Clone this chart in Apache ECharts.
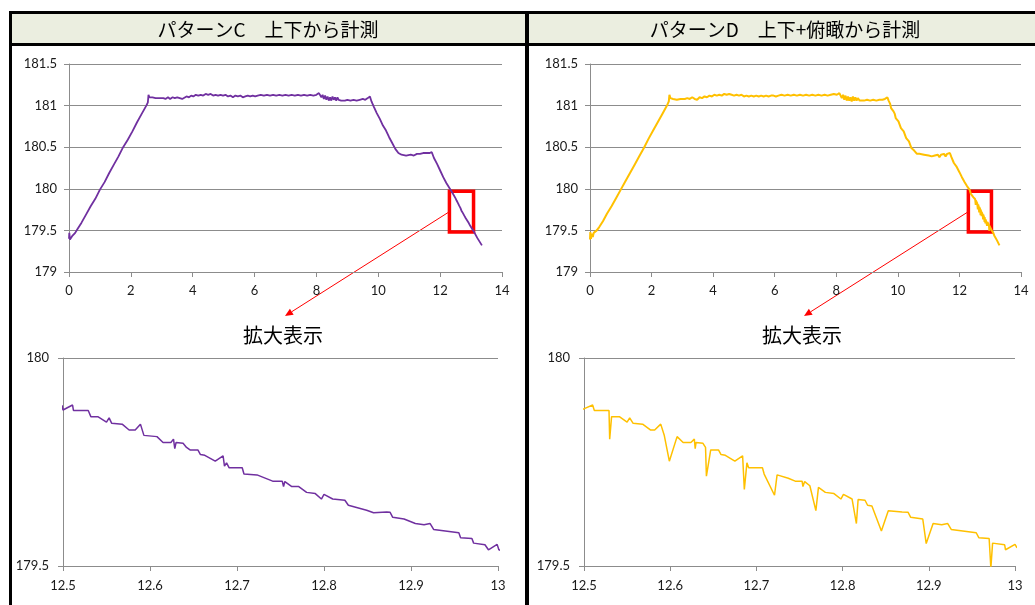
<!DOCTYPE html>
<html>
<head>
<meta charset="utf-8">
<script src="https://cdn.jsdelivr.net/npm/echarts@6/dist/echarts.min.js"></script>
<style>
  html, body { margin: 0; padding: 0; background: #ffffff; }
  #chart { width: 1035px; height: 605px; }
</style>
</head>
<body>
<div id="chart"></div>
<script>
// Panel titles and zoom caption
const titleC = 'パターンC　上下から計測';
const titleD = 'パターンD　上下+俯瞰から計測';
const zoomCaption = '拡大表示';

// Axis ranges / tick steps
const overviewX = { min: 0, max: 14, interval: 2 };
const overviewY = { min: 179, max: 181.5, interval: 0.5 };
const detailX = { min: 12.5, max: 13, interval: 0.1 };
const detailY = { min: 179.5, max: 180, interval: 0.5 };

// Highlighted zoom windows [[x0, y0], [x1, y1]]
const zoomBoxC = [[12.3, 179.97], [13.08, 179.48]];
const zoomBoxD = [[12.29, 179.97], [13.04, 179.48]];

// Pattern C measurement: [time, position]
const seriesC = [
  [0.00,179.40],[0.01,179.47],[0.03,179.39],[0.06,179.41],[0.10,179.43],[0.15,179.44],[0.20,179.47],
  [0.28,179.52],[0.40,179.59],[0.55,179.69],[0.70,179.79],[0.85,179.88],[1.00,179.99],[1.15,180.08],
  [1.30,180.19],[1.45,180.29],[1.60,180.39],[1.75,180.50],[1.90,180.59],[2.05,180.69],[2.20,180.80],
  [2.35,180.90],[2.50,181.00],[2.55,181.04],[2.57,181.13],[2.60,181.10],[2.63,181.12],
  [2.66,181.08],[2.70,181.10],[2.75,181.08],[2.80,181.09],[2.86,181.07],[2.92,181.09],[2.98,181.08],
  [3.05,181.09],[3.12,181.08],[3.20,181.10],[3.27,181.08],[3.35,181.10],[3.42,181.09],[3.50,181.10],
  [3.58,181.09],[3.66,181.08],[3.72,181.07],[3.80,181.11],[3.88,181.10],[3.95,181.12],[4.02,181.11],
  [4.10,181.13],[4.18,181.12],[4.26,181.13],[4.34,181.12],[4.42,181.14],[4.50,181.13],[4.58,181.14],
  [4.66,181.12],[4.74,181.13],[4.82,181.12],[4.90,181.13],[4.98,181.12],[5.06,181.13],[5.14,181.11],
  [5.22,181.12],[5.30,181.10],[5.38,181.12],[5.46,181.11],[5.54,181.12],[5.62,181.10],[5.70,181.11],
  [5.78,181.12],[5.86,181.11],[5.94,181.12],[6.02,181.11],[6.10,181.12],[6.20,181.13],[6.30,181.12],
  [6.40,181.13],[6.50,181.12],[6.60,181.13],[6.70,181.12],[6.80,181.13],[6.90,181.12],[7.00,181.13],
  [7.10,181.12],[7.20,181.13],[7.30,181.12],[7.40,181.13],[7.50,181.12],[7.60,181.13],[7.70,181.12],
  [7.80,181.13],[7.90,181.12],[8.00,181.13],[8.08,181.15],[8.12,181.14],[8.16,181.10],[8.20,181.13],
  [8.24,181.08],[8.28,181.12],[8.32,181.07],[8.36,181.11],[8.40,181.06],[8.44,181.10],[8.48,181.06],
  [8.52,181.11],[8.56,181.07],[8.60,181.10],[8.64,181.06],[8.68,181.10],[8.72,181.07],[8.76,181.09],
  [8.80,181.06],[8.86,181.08],[8.92,181.06],[9.00,181.07],[9.10,181.06],[9.20,181.07],[9.30,181.06],
  [9.40,181.07],[9.50,181.08],[9.58,181.07],[9.66,181.09],[9.73,181.11],
  [9.78,181.05],[9.85,180.99],[9.95,180.91],[10.05,180.84],[10.15,180.76],[10.25,180.70],[10.35,180.62],
  [10.45,180.55],[10.55,180.48],[10.65,180.43],
  [10.75,180.41],[10.90,180.40],[11.05,180.41],[11.15,180.40],[11.25,180.42],[11.30,180.40],[11.35,180.42],
  [11.40,180.41],[11.45,180.43],[11.50,180.41],[11.55,180.43],[11.60,180.41],[11.65,180.43],[11.70,180.42],
  [11.73,180.44],
  [11.80,180.37],[11.90,180.30],[12.00,180.22],[12.10,180.14],[12.20,180.07],[12.30,180.01],[12.40,179.95],
  [12.499,179.885],[12.500,179.875],[12.511,179.887],[12.512,179.874],[12.529,179.874],[12.532,179.859],
  [12.540,179.859],[12.550,179.846],[12.553,179.856],[12.556,179.843],[12.568,179.841],[12.576,179.827],
  [12.583,179.827],[12.589,179.841],[12.593,179.814],[12.608,179.811],[12.615,179.797],[12.624,179.797],
  [12.627,179.805],[12.6285,179.782],[12.630,179.797],[12.638,179.795],[12.642,179.785],[12.646,179.779],
  [12.655,179.779],[12.658,179.768],[12.663,179.766],[12.675,179.752],[12.684,179.765],[12.6856,179.740],
  [12.688,179.748],[12.691,179.736],[12.706,179.736],[12.708,179.721],[12.723,179.719],[12.741,179.704],
  [12.752,179.704],[12.7535,179.691],[12.755,179.703],[12.763,179.691],[12.771,179.691],[12.780,179.677],
  [12.790,179.674],[12.797,179.661],[12.800,179.672],[12.810,179.661],[12.824,179.658],[12.828,179.646],
  [12.849,179.634],[12.857,179.628],[12.872,179.630],[12.876,179.629],[12.879,179.617],[12.892,179.613],
  [12.905,179.602],[12.915,179.599],[12.922,179.602],[12.926,179.588],[12.955,179.580],[12.957,179.568],
  [12.970,179.566],[12.972,179.555],[12.985,179.551],[12.989,179.539],[12.999,179.552],[13.001,179.539],
  [13.10,179.48],[13.20,179.41],[13.30,179.35],[13.35,179.32]
];

// Pattern D measurement: [time, position]
const seriesD = [
  [0.00,179.39],[0.01,179.48],[0.03,179.40],[0.06,179.46],[0.09,179.42],[0.12,179.47],[0.16,179.45],
  [0.22,179.50],[0.30,179.54],[0.42,179.61],[0.55,179.70],[0.70,179.79],[0.85,179.89],[1.00,179.99],
  [1.15,180.09],[1.30,180.19],[1.45,180.29],[1.60,180.39],[1.75,180.49],[1.90,180.60],[2.05,180.70],
  [2.20,180.80],[2.35,180.90],[2.50,181.00],[2.56,181.05],[2.58,181.13],[2.61,181.09],
  [2.62,181.08],[2.66,181.10],[2.70,181.08],[2.76,181.09],[2.82,181.07],[2.88,181.09],[2.94,181.08],
  [3.00,181.09],[3.08,181.08],[3.16,181.09],[3.24,181.08],[3.32,181.10],[3.40,181.08],[3.48,181.07],
  [3.56,181.10],[3.64,181.09],[3.72,181.11],[3.80,181.10],[3.88,181.12],[3.96,181.11],[4.04,181.13],
  [4.12,181.12],[4.20,181.13],[4.28,181.12],[4.36,181.14],[4.44,181.13],[4.52,181.14],[4.60,181.13],
  [4.68,181.12],[4.76,181.13],[4.84,181.12],[4.92,181.13],[5.00,181.11],[5.08,181.12],[5.16,181.11],
  [5.24,181.12],[5.32,181.11],[5.40,181.12],[5.48,181.11],[5.56,181.12],[5.64,181.11],[5.72,181.12],
  [5.80,181.11],[5.88,181.12],[5.96,181.12],[6.04,181.11],[6.12,181.12],[6.22,181.13],[6.32,181.12],
  [6.42,181.13],[6.52,181.12],[6.62,181.13],[6.72,181.12],[6.82,181.13],[6.92,181.12],[7.02,181.13],
  [7.12,181.12],[7.22,181.13],[7.32,181.12],[7.42,181.13],[7.52,181.12],[7.62,181.13],[7.72,181.12],
  [7.82,181.13],[7.92,181.14],[8.02,181.13],[8.10,181.15],[8.14,181.12],[8.18,181.09],[8.22,181.13],
  [8.26,181.07],[8.30,181.12],[8.34,181.06],[8.38,181.11],[8.42,181.06],[8.46,181.10],[8.50,181.05],
  [8.54,181.11],[8.58,181.06],[8.62,181.10],[8.66,181.06],[8.70,181.09],[8.76,181.06],[8.82,181.08],
  [8.90,181.06],[9.00,181.07],[9.10,181.06],[9.20,181.07],[9.30,181.06],[9.40,181.07],[9.50,181.07],
  [9.58,181.08],[9.63,181.10],
  [9.66,181.10],[9.70,181.06],[9.75,181.02],[9.78,180.97],[9.82,180.98],[9.86,180.93],[9.90,180.90],
  [9.93,180.85],[9.97,180.87],[10.02,180.81],[10.06,180.79],[10.10,180.73],[10.14,180.75],[10.19,180.69],
  [10.23,180.68],[10.27,180.61],[10.31,180.63],[10.36,180.57],[10.40,180.55],[10.44,180.49],[10.48,180.51],
  [10.53,180.46],[10.58,180.44],[10.62,180.42],
  [10.70,180.42],[10.85,180.41],[11.00,180.40],[11.10,180.39],[11.20,180.40],[11.25,180.38],[11.30,180.41],
  [11.35,180.38],[11.40,180.41],[11.45,180.39],[11.50,180.42],[11.55,180.39],[11.60,180.42],[11.65,180.40],
  [11.69,180.43],
  [11.74,180.38],[11.78,180.36],[11.82,180.31],[11.86,180.33],[11.90,180.27],[11.95,180.25],[12.00,180.20],
  [12.04,180.21],[12.08,180.14],[12.13,180.13],[12.17,180.08],[12.21,180.09],[12.25,180.03],[12.29,180.01],
  [12.33,179.99],[12.37,179.94],[12.41,179.95],[12.45,179.90],
  [12.499,179.877],[12.510,179.887],[12.512,179.874],[12.529,179.874],[12.5298,179.805],[12.532,179.859],
  [12.541,179.859],[12.550,179.846],[12.553,179.856],[12.557,179.843],[12.568,179.841],[12.577,179.827],
  [12.582,179.827],[12.589,179.841],[12.593,179.815],[12.599,179.752],[12.608,179.811],[12.615,179.797],
  [12.624,179.797],[12.628,179.805],[12.629,179.782],[12.630,179.797],[12.638,179.795],[12.641,179.785],
  [12.642,179.716],[12.647,179.779],[12.656,179.779],[12.659,179.768],[12.664,179.766],[12.675,179.752],
  [12.684,179.765],[12.686,179.684],[12.689,179.748],[12.691,179.736],[12.707,179.736],[12.709,179.721],
  [12.711,179.719],[12.721,179.670],[12.724,179.719],[12.737,179.711],[12.745,179.704],[12.753,179.704],
  [12.754,179.691],[12.756,179.703],[12.762,179.693],[12.769,179.633],[12.772,179.689],[12.780,179.677],
  [12.790,179.674],[12.798,179.661],[12.801,179.672],[12.811,179.661],[12.816,179.602],[12.818,179.660],
  [12.826,179.658],[12.829,179.646],[12.834,179.644],[12.845,179.584],[12.853,179.633],[12.855,179.629],
  [12.869,179.630],[12.876,179.629],[12.879,179.617],[12.893,179.613],[12.897,179.554],[12.905,179.602],
  [12.915,179.599],[12.922,179.602],[12.926,179.588],[12.955,179.580],[12.958,179.568],[12.970,179.566],
  [12.972,179.495],[12.974,179.555],[12.988,179.551],[12.989,179.539],[13.000,179.552],[13.002,179.545],
  [13.05,179.50],[13.10,179.47],[13.13,179.44],[13.18,179.43],[13.22,179.38],[13.27,179.36],[13.30,179.32]
];

const colorC = '#7030a0';
const colorD = '#ffc000';
const axisGray = '#8c8c8c';
const labelFont = 'Lato, "Liberation Sans", sans-serif';
const jpFont = '"Noto Sans CJK JP", sans-serif';

function valueAxis(range, gridIndex, margin, showSplit) {
  return {
    type: 'value', gridIndex: gridIndex,
    min: range.min, max: range.max, interval: range.interval,
    axisLine: { show: true, lineStyle: { color: axisGray, width: 1 } },
    axisTick: { show: true, length: 5, lineStyle: { color: axisGray } },
    axisLabel: { color: '#1a1a1a', fontSize: 13, fontFamily: labelFont, margin: margin },
    splitLine: { show: showSplit, lineStyle: { color: axisGray, width: 1 } }
  };
}

function lineSeries(data, color, idx, width, box) {
  const s = {
    type: 'line', data: data, xAxisIndex: idx, yAxisIndex: idx,
    showSymbol: false, symbol: 'none', clip: true,
    lineStyle: { color: color, width: width },
    itemStyle: { color: color },
    animation: false, silent: true
  };
  if (box) {
    s.markArea = {
      silent: true,
      itemStyle: { color: 'rgba(0,0,0,0)', borderColor: '#ff0000', borderWidth: 3.5 },
      data: [[{ coord: box[0] }, { coord: box[1] }]]
    };
  }
  return s;
}

const chart = echarts.init(document.getElementById('chart'), null, { renderer: 'canvas' });

const option = {
  animation: false,
  backgroundColor: '#ffffff',
  grid: [
    { left: 69, right: 533, top: 64, bottom: 333 },
    { left: 63, right: 537, top: 358, bottom: 39 },
    { left: 590, right: 14, top: 64, bottom: 333 },
    { left: 584, right: 20, top: 358, bottom: 39 }
  ],
  xAxis: [
    valueAxis(overviewX, 0, 12, false),
    valueAxis(detailX, 1, 13, false),
    valueAxis(overviewX, 2, 12, false),
    valueAxis(detailX, 3, 13, false)
  ],
  yAxis: [
    valueAxis(overviewY, 0, 12, true),
    valueAxis(detailY, 1, 14, true),
    valueAxis(overviewY, 2, 12, true),
    valueAxis(detailY, 3, 14, true)
  ],
  series: [
    lineSeries(seriesC, colorC, 0, 1.8, zoomBoxC),
    lineSeries(seriesC, colorC, 1, 1.5, null),
    lineSeries(seriesD, colorD, 2, 2, zoomBoxD),
    lineSeries(seriesD, colorD, 3, 1.5, null)
  ],
  graphic: [
    { id: 'hdrC', type: 'rect', shape: { x: 12, y: 14, width: 513, height: 29 }, style: { fill: '#ebeee0' }, silent: true },
    { id: 'hdrD', type: 'rect', shape: { x: 529, y: 14, width: 506, height: 29 }, style: { fill: '#ebeee0' }, silent: true },
    { id: 'bTop', type: 'rect', shape: { x: 9, y: 11, width: 1026, height: 3 }, style: { fill: '#000' }, silent: true },
    { id: 'bHdr', type: 'rect', shape: { x: 9, y: 43, width: 1026, height: 3 }, style: { fill: '#000' }, silent: true },
    { id: 'bLeft', type: 'rect', shape: { x: 9, y: 11, width: 3, height: 594 }, style: { fill: '#000' }, silent: true },
    { id: 'bMid', type: 'rect', shape: { x: 525, y: 11, width: 4, height: 594 }, style: { fill: '#000' }, silent: true },
    { id: 'tC', type: 'text', x: 268, y: 30, style: { text: titleC, fill: '#000', font: '19px ' + jpFont, textAlign: 'center', textVerticalAlign: 'middle' }, silent: true },
    { id: 'tD', type: 'text', x: 785, y: 30, style: { text: titleD, fill: '#000', font: '19px ' + jpFont, textAlign: 'center', textVerticalAlign: 'middle' }, silent: true },
    { id: 'zC', type: 'text', x: 283, y: 335, style: { text: zoomCaption, fill: '#000', font: '20px ' + jpFont, textAlign: 'center', textVerticalAlign: 'middle' }, silent: true },
    { id: 'zD', type: 'text', x: 802, y: 335, style: { text: zoomCaption, fill: '#000', font: '20px ' + jpFont, textAlign: 'center', textVerticalAlign: 'middle' }, silent: true }
  ]
};

chart.setOption(option);

// Leader arrows from the zoom window's left edge down towards the caption
function arrow(id, axisIdx, box, tip) {
  const yMid = (box[0][1] + box[1][1]) / 2;
  const start = chart.convertToPixel({ xAxisIndex: axisIdx, yAxisIndex: axisIdx }, [box[0][0], yMid]);
  const dx = tip[0] - start[0], dy = tip[1] - start[1];
  const len = Math.sqrt(dx * dx + dy * dy);
  const ux = dx / len, uy = dy / len;
  const headLen = 8, headHalf = 3.5;
  const bx = tip[0] - ux * headLen, by = tip[1] - uy * headLen;
  return [
    { id: id + 'L', type: 'line', shape: { x1: start[0], y1: start[1], x2: bx, y2: by }, style: { stroke: '#ff0000', lineWidth: 1 }, silent: true },
    { id: id + 'H', type: 'polygon', shape: { points: [tip, [bx - uy * headHalf, by + ux * headHalf], [bx + uy * headHalf, by - ux * headHalf]] }, style: { fill: '#ff0000' }, silent: true }
  ];
}

chart.setOption({
  graphic: [].concat(arrow('aC', 0, zoomBoxC, [285, 316]), arrow('aD', 2, zoomBoxD, [804, 316]))
});
</script>
</body>
</html>
